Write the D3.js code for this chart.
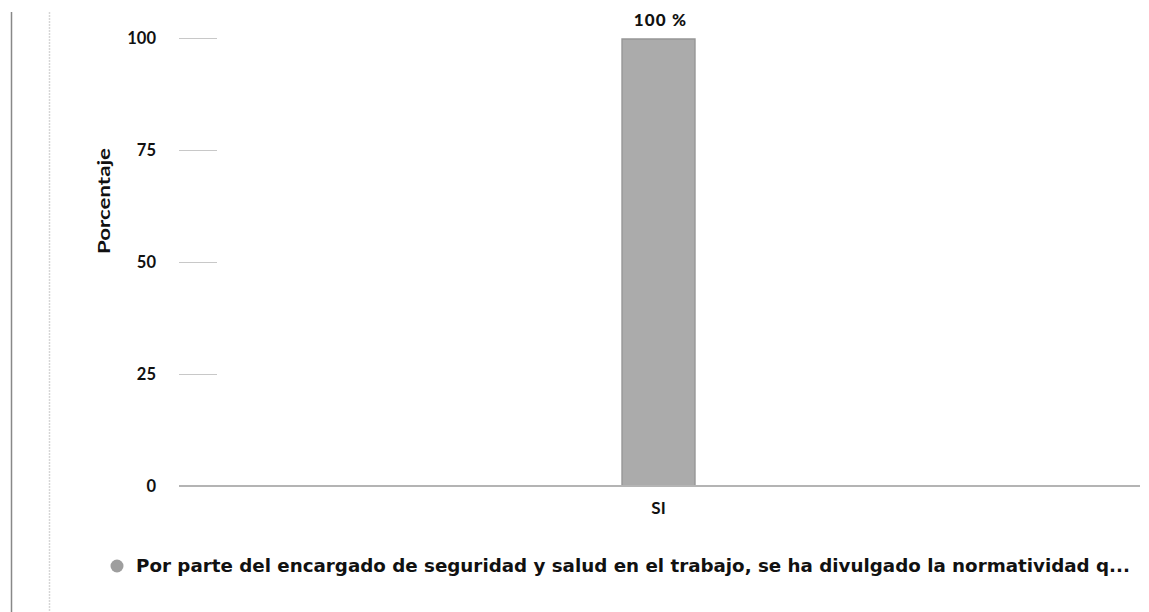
<!DOCTYPE html>
<meta charset="utf-8">
<script src="https://d3js.org/d3.v7.min.js"></script>
<style>
  body { margin: 0; background: #fff; }
  text { font-family: Lato, "Open Sans", sans-serif; fill: #111; }
</style>
<div id="my_dataviz"></div>
<script>

// data
var categories = ["SI"];
var values = [100];
var yTicks = [0, 25, 50, 75, 100];
var seriesName = "Por parte del encargado de seguridad y salud en el trabajo, se ha divulgado la normatividad q...";
var yTitle = "Porcentaje";

var W = 1149, H = 612;
var margin = {top: 38, right: 9, bottom: 126, left: 179},
    width = W - margin.left - margin.right,
    height = H - margin.top - margin.bottom;

var root = d3.select("#my_dataviz")
  .append("svg")
    .attr("width", W)
    .attr("height", H);

// frame lines on the left
root.append("line")
  .attr("x1", 11.5).attr("x2", 11.5).attr("y1", 12).attr("y2", H)
  .style("stroke", "#888").style("stroke-width", 1.5);
root.append("line")
  .attr("x1", 49.5).attr("x2", 49.5).attr("y1", 12).attr("y2", H)
  .style("stroke", "#d6d6d6").style("stroke-width", 1.5)
  .style("stroke-dasharray", "2,1");

var svg = root.append("g")
  .attr("transform", "translate(" + margin.left + "," + margin.top + ")");

var x = d3.scaleBand()
  .domain(categories)
  .range([0, width])
  .padding(0.859);

var y = d3.scaleLinear()
  .domain([0, 100])
  .range([height, 0]);

// y axis: short tick lines + labels
var yAxis = svg.append("g")
  .call(d3.axisLeft(y).tickValues(yTicks).tickSize(0).tickPadding(23));
yAxis.select(".domain").remove();
yAxis.selectAll("text")
  .style("font-size", "16.5px")
  .style("font-weight", "bold")
  .style("font-family", "Lato, sans-serif");

svg.selectAll(".tickline")
  .data(yTicks.filter(function(d) { return d > 0; }))
  .enter().append("line")
    .attr("x1", 0).attr("x2", 38)
    .attr("y1", function(d) { return y(d) + 0.5; })
    .attr("y2", function(d) { return y(d) + 0.5; })
    .style("stroke", "#c8c8c8");

// bars
svg.selectAll(".bar")
  .data(values)
  .enter().append("rect")
    .attr("x", function(d, i) { return x(categories[i]) - 1; })
    .attr("y", function(d) { return y(d) + 1; })
    .attr("width", x.bandwidth())
    .attr("height", function(d) { return height - y(d) - 1; })
    .style("fill", "#ababab")
    .style("stroke", "#979797")
    .style("stroke-width", 1.5);

// value labels
svg.selectAll(".vlabel")
  .data(values)
  .enter().append("text")
    .attr("x", function(d, i) { return x(categories[i]) + 1 + x.bandwidth() / 2; })
    .attr("y", function(d) { return y(d) - 12; })
    .attr("text-anchor", "middle")
    .style("font-size", "17px")
    .style("font-weight", "900")
    .style("letter-spacing", "1.2px")
    .text(function(d) { return d + " %"; });

// x axis baseline
svg.append("line")
  .attr("x1", 0).attr("x2", width)
  .attr("y1", height).attr("y2", height)
  .style("stroke", "#b4b4b4").style("stroke-width", 2);

var xAxis = svg.append("g")
  .attr("transform", "translate(0," + height + ")")
  .call(d3.axisBottom(x).tickSize(0).tickPadding(16));
xAxis.select(".domain").remove();
xAxis.selectAll("text")
  .attr("dx", "-1px")
  .style("font-size", "17px")
  .style("font-weight", "bold")
  .style("font-family", "Lato, sans-serif");

// y title
root.append("text")
  .attr("transform", "translate(110,201) rotate(-90)")
  .attr("text-anchor", "middle")
  .attr("textLength", 106)
  .attr("lengthAdjust", "spacingAndGlyphs")
  .style("font-size", "17px")
  .style("font-weight", "bold")
  .text(yTitle);

// legend
root.append("circle")
  .attr("cx", 117).attr("cy", 566).attr("r", 6.5)
  .style("fill", "#9e9e9e");
var leg = root.append("text")
  .attr("x", 136).attr("y", 571.5)
  .style("font-family", "'DejaVu Sans', sans-serif")
  .style("font-weight", "bold")
  .style("font-size", "14px")
  .text(seriesName);
// fit the legend text to the width it has in the picture
var target = 994;
var len = leg.node().getComputedTextLength();
leg.style("font-size", (14 * target / len).toFixed(2) + "px");

</script>
